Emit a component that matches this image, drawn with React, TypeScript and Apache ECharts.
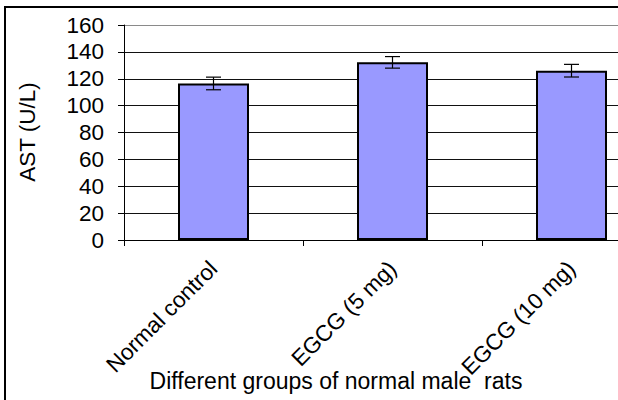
import React, { useEffect, useRef } from "react";
import * as echarts from "echarts";

const categories = ["Normal control", "EGCG (5 mg)", "EGCG (10 mg)"];
const means = [116.5, 132.2, 126.0];
const errors = [4.7, 4.3, 4.7];
const yTicks = [0, 20, 40, 60, 80, 100, 120, 140, 160];
const yTitle = "AST (U/L)";
const xTitle = "Different groups of normal male  rats";

const FONT = "'Liberation Sans', Arial, sans-serif";
const FS = 22.5;

export default function App() {
  const ref = useRef<HTMLDivElement>(null);
  useEffect(() => {
    if (!ref.current) return;
    const chart = echarts.init(ref.current, null, { renderer: "svg" });
    const splitColors = yTicks.map((t, i) => (i === yTicks.length - 1 ? "#8a8a8a" : "#111"));
    chart.setOption({
      animation: false,
      backgroundColor: "#fff",
      grid: { left: 124, top: 25, right: 39, bottom: 160, containLabel: false },
      xAxis: {
        type: "category",
        data: categories,
        axisLine: { lineStyle: { color: "#000", width: 1 } },
        axisTick: { show: true, length: 6, lineStyle: { color: "#000" } },
        axisLabel: {
          rotate: 45,
          margin: 25,
          fontSize: FS,
          fontFamily: FONT,
          color: "#000",
          interval: 0,
        },
      },
      yAxis: {
        type: "value",
        min: yTicks[0],
        max: yTicks[yTicks.length - 1],
        interval: 20,
        axisLine: { show: true, lineStyle: { color: "#000", width: 1 } },
        axisTick: { show: true, length: 6, lineStyle: { color: "#000" } },
        axisLabel: { margin: 20, fontSize: FS, fontFamily: FONT, color: "#000" },
        splitLine: { show: true, lineStyle: { color: splitColors, width: 1 } },
      },
      series: [
        {
          type: "bar",
          data: means,
          barWidth: 71,
          itemStyle: { color: "#9999FF", borderColor: "#000", borderWidth: 2 },
        },
        {
          type: "custom",
          data: means.map((m, i) => [i, m - errors[i], m + errors[i]]),
          renderItem: (params: any, api: any) => {
            const i = api.value(0);
            const lo = api.coord([i, api.value(1)]);
            const hi = api.coord([i, api.value(2)]);
            const x = lo[0];
            const hw = 7.5;
            const st = { stroke: "#000", lineWidth: 1.2 };
            return {
              type: "group",
              children: [
                { type: "line", shape: { x1: x, y1: lo[1], x2: x, y2: hi[1] }, style: st },
                { type: "line", shape: { x1: x - hw, y1: lo[1], x2: x + hw, y2: lo[1] }, style: st },
                { type: "line", shape: { x1: x - hw, y1: hi[1], x2: x + hw, y2: hi[1] }, style: st },
              ],
            };
          },
          z: 10,
        },
      ],
      graphic: [
        {
          type: "rect",
          shape: { x: 5, y: 7, width: 700, height: 500 },
          style: { fill: "none", stroke: "#000", lineWidth: 2 },
          silent: true,
          z: 100,
        },
        {
          type: "text",
          x: 27,
          y: 132,
          rotation: Math.PI / 2,
          style: {
            text: yTitle,
            fontSize: FS,
            fontFamily: FONT,
            fill: "#000",
            align: "center",
            verticalAlign: "middle",
          },
        },
        {
          type: "text",
          x: 336,
          y: 381,
          style: {
            text: xTitle,
            fontSize: 23,
            fontFamily: FONT,
            fill: "#000",
            align: "center",
            verticalAlign: "middle",
          },
          z: 50,
        },
      ],
    });
    return () => chart.dispose();
  }, []);
  return (
    <div style={{ position: "fixed", left: 0, top: 0, width: 618, height: 400, overflow: "hidden" }}>
      <div ref={ref} style={{ width: 700, height: 400 }} />
    </div>
  );
}
